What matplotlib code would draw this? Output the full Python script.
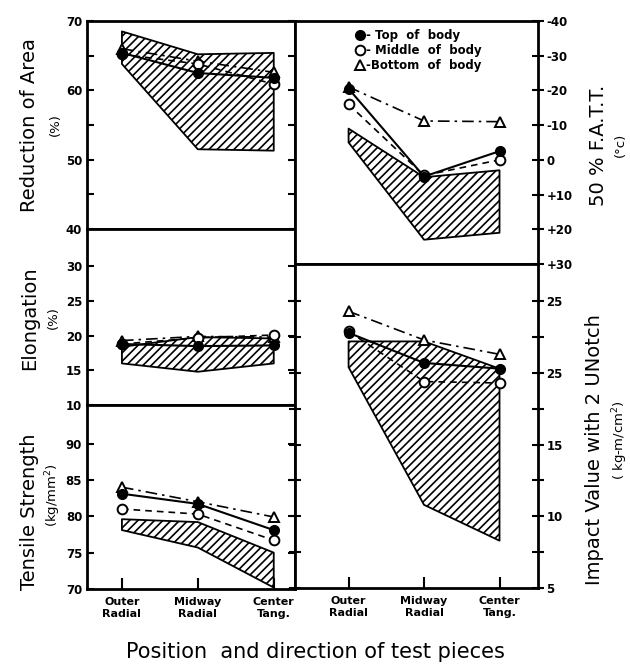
import matplotlib
matplotlib.use("Agg")
import matplotlib.pyplot as plt
from matplotlib.lines import Line2D

# categories along the x axis
positions = [0, 1, 2]
pos_labels = ["Outer\nRadial", "Midway\nRadial", "Center\nTang."]

# Reduction of area (%)
ra_top = [65.4, 62.5, 61.8]
ra_mid = [65.2, 63.8, 60.9]
ra_bot = [66.0, 64.2, 62.6]
ra_band_hi = [68.5, 65.2, 65.4]
ra_band_lo = [63.8, 51.5, 51.3]

# Elongation (%)
el_top = [18.8, 18.5, 18.6]
el_mid = [18.8, 19.7, 20.1]
el_bot = [19.3, 19.9, 19.8]
el_band_hi = [18.4, 19.8, 19.6]
el_band_lo = [16.0, 14.8, 16.0]

# Tensile strength (kg/mm2)
ts_top = [83.1, 81.7, 78.1]
ts_mid = [81.0, 80.3, 76.7]
ts_bot = [84.0, 82.0, 79.9]
ts_band_hi = [79.6, 79.2, 75.0]
ts_band_lo = [78.1, 75.7, 70.2]

# 50% FATT (deg C)
fatt_top = [-20.5, 4.8, -2.5]
fatt_mid = [-16.0, 4.5, 0.0]
fatt_bot = [-21.0, -11.2, -11.0]
fatt_band_hi = [-9.0, 5.0, 3.0]
fatt_band_lo = [-5.0, 23.0, 21.0]
fatt_ticks = [-40, -30, -20, -10, 0, 10, 20, 30]
fatt_labels = ["-40", "-30", "-20", "-10", "0", "+10", "+20", "+30"]

# Impact value with 2U notch (kg-m/cm2)
iv_top = [22.8, 20.7, 20.3]
iv_mid = [22.9, 19.4, 19.3]
iv_bot = [24.3, 22.3, 21.3]
iv_band_hi = [22.2, 22.2, 20.3]
iv_band_lo = [20.4, 10.8, 8.3]
iv_ticks = [25, 20, 15, 10, 5]
iv_labels = ["25", "25", "15", "10", "5"]

plt.rcParams["hatch.linewidth"] = 1.2
plt.rcParams["font.family"] = "DejaVu Sans"

fig = plt.figure(figsize=(6.3, 6.66), dpi=100)
W, H = 630.0, 666.0


def make_ax(x0, y0, x1, y1):
    return fig.add_axes([x0 / W, 1 - y1 / H, (x1 - x0) / W, (y1 - y0) / H])


ax_ra = make_ax(87, 21, 295, 229)
ax_el = make_ax(87, 229, 295, 405)
ax_ts = make_ax(87, 405, 295, 589)
ax_fatt = make_ax(295, 21, 538, 264)
ax_iv = make_ax(295, 264, 538, 588)


def draw(ax, top, mid, bot, lo, hi):
    ax.fill_between(positions, lo, hi, facecolor="none", edgecolor="black",
                    hatch="////", linewidth=1.3)
    ax.plot(positions, bot, color="black", lw=1.2, ls=(0, (7, 3, 1.5, 3)),
            marker="^", ms=7.5, mfc="white", mec="black", mew=1.4)
    ax.plot(positions, mid, color="black", lw=1.2, ls=(0, (4, 3)),
            marker="o", ms=7, mfc="white", mec="black", mew=1.4)
    ax.plot(positions, top, color="black", lw=1.5, ls="-",
            marker="o", ms=7, mfc="black", mec="black")
    for s in ax.spines.values():
        s.set_linewidth(2)
    ax.tick_params(labelsize=8.5, width=1.5, length=5)


left_axes = [ax_ra, ax_el, ax_ts]
draw(ax_ra, ra_top, ra_mid, ra_bot, ra_band_lo, ra_band_hi)
draw(ax_el, el_top, el_mid, el_bot, el_band_lo, el_band_hi)
draw(ax_ts, ts_top, ts_mid, ts_bot, ts_band_lo, ts_band_hi)
draw(ax_fatt, fatt_top, fatt_mid, fatt_bot, fatt_band_lo, fatt_band_hi)
draw(ax_iv, iv_top, iv_mid, iv_bot, iv_band_lo, iv_band_hi)

for ax in left_axes:
    ax.set_xlim(-0.46, 2.28)
for ax in [ax_fatt, ax_iv]:
    ax.set_xlim(-0.71, 2.51)

ax_ra.set_ylim(40, 70)
ax_ra.set_yticks([40, 50, 60, 70])
ax_ra.set_yticks([45, 55, 65], minor=True)
ax_el.set_ylim(10, 35.4)
ax_el.set_yticks([10, 15, 20, 25, 30])
ax_ts.set_ylim(70, 95.3)
ax_ts.set_yticks([70, 75, 80, 85, 90])

for ax in left_axes:
    ax.tick_params(axis="y", which="both", direction="in", right=True,
                   left=True, length=5, width=1.5)
    for t in ax.get_yticklabels():
        t.set_fontweight("bold")

for ax in [ax_ra, ax_el, ax_fatt]:
    ax.set_xticks([])

ax_ts.set_xticks(positions)
ax_ts.set_xticklabels(pos_labels, fontsize=8, fontweight="bold")
ax_ts.tick_params(axis="x", direction="in", length=8, width=1.5, pad=6)

ax_fatt.set_ylim(30, -40)
ax_fatt.yaxis.tick_right()
ax_fatt.set_yticks(fatt_ticks)
ax_fatt.set_yticklabels(fatt_labels, fontsize=8.5, fontweight="bold")
ax_fatt.tick_params(axis="y", direction="inout", length=8, width=1.5, pad=2)

ax_iv.set_ylim(5, 27.6)
ax_iv.yaxis.tick_right()
ax_iv.set_yticks(iv_ticks)
ax_iv.set_yticklabels(iv_labels, fontsize=8.5, fontweight="bold")
ax_iv.set_yticks([7.5, 12.5, 17.5, 22.5], minor=True)
ax_iv.tick_params(axis="y", which="both", direction="inout", length=8,
                  width=1.5, left=True, right=True, pad=2)
ax_iv.set_xticks(positions)
ax_iv.set_xticklabels(pos_labels, fontsize=8, fontweight="bold")
ax_iv.tick_params(axis="x", direction="in", length=8, width=1.5, pad=6)

handles = [
    Line2D([], [], marker="o", color="black", ls="none", ms=7),
    Line2D([], [], marker="o", color="black", mfc="white", ls="none", ms=7, mew=1.4),
    Line2D([], [], marker="^", color="black", mfc="white", ls="none", ms=7, mew=1.4),
]
ax_fatt.legend(handles, ["- Top  of  body", "- Middle  of  body", "-Bottom  of  body"],
               loc="upper left", bbox_to_anchor=(0.22, 1.0), frameon=False,
               handlelength=0.6, handletextpad=0.2, labelspacing=0.15,
               borderpad=0.2, prop={"size": 8.5, "weight": "bold"})

# axis titles
lab = dict(rotation=90, ha="center", va="center", fontsize=14)
sub = dict(rotation=90, ha="center", va="center", fontsize=9.5)
fig.text(30 / W, 1 - 125 / H, "Reduction of Area", **lab)
fig.text(55 / W, 1 - 125 / H, "(%)", **sub)
fig.text(30 / W, 1 - 318 / H, "Elongation", **lab)
fig.text(53 / W, 1 - 318 / H, "(%)", **sub)
fig.text(30 / W, 1 - 512 / H, "Tensile Strength", **lab)
fig.text(53 / W, 1 - 495 / H, "(kg/mm$^2$)", **sub)
fig.text(598 / W, 1 - 145 / H, "50 % F.A.T.T.", **lab)
fig.text(620 / W, 1 - 145 / H, "(\u00b0c)", **sub)
fig.text(595 / W, 1 - 450 / H, "Impact Value with 2 UNotch", **lab)
fig.text(620 / W, 1 - 440 / H, "( kg-m/cm$^2$)", **sub)
fig.text(315 / W, 1 - 652 / H, "Position  and direction of test pieces",
         ha="center", va="center", fontsize=15)

fig.savefig("out.png", dpi=100)
